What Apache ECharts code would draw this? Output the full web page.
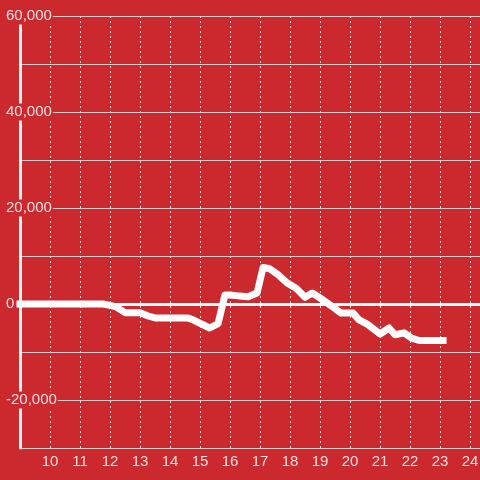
<!DOCTYPE html>
<html><head><meta charset="utf-8">
<script src="https://cdn.jsdelivr.net/npm/echarts@6/dist/echarts.min.js"></script>
<style>html,body{margin:0;padding:0;background:#cc292e}#c{width:480px;height:480px}</style>
</head><body><div id="c"></div>
<script>
const xValues = [9, 11.77, 12.0, 12.2, 12.5, 13.0, 13.27, 13.5, 14.6, 14.8, 15.32, 15.6, 15.83, 16.1, 16.6, 16.9, 17.1, 17.3, 17.6, 17.9, 18.2, 18.5, 18.74, 19.0, 19.2, 19.4, 19.7, 20.1, 20.3, 20.6, 21.0, 21.3, 21.5, 21.8, 22.05, 22.3, 23.1];
const yValues = [0, 0, -300, -600, -1800, -1800, -2500, -2900, -2900, -3400, -5000, -4100, 1900, 1800, 1500, 2300, 7600, 7400, 6100, 4400, 3300, 1400, 2300, 1250, 400, -500, -1900, -1900, -3300, -4300, -6250, -5000, -6400, -6000, -7100, -7600, -7600];
const yLabeled = [60000, 40000, 20000, 0, -20000];
const xLabeled = [10, 11, 12, 13, 14, 15, 16, 17, 18, 19, 20, 21, 22, 23, 24];

const bg = '#cc292e';
const txt = 'rgba(255,255,255,0.85)';
const chart = echarts.init(document.getElementById('c'));
chart.setOption({
  backgroundColor: bg,
  animation: false,
  grid: {left: 20, right: 0, top: 16, bottom: 32, containLabel: false, outerBoundsMode: 'none'},
  xAxis: {
    type: 'value', min: 9, max: 24.33, interval: 1,
    axisLine: {show: true, lineStyle: {color: '#d9d9d9', width: 1}},
    axisTick: {show: false},
    axisLabel: {color: txt, fontSize: 15, fontFamily: 'Liberation Sans', margin: 6,
      formatter: v => xLabeled.includes(v) ? String(v) : ''},
    splitLine: {show: true, lineStyle: {color: '#e6d6d6', width: 1, type: [2, 3]}}
  },
  yAxis: {
    type: 'value', min: -30000, max: 60000, interval: 10000,
    axisLine: {show: true, lineStyle: {color: '#f2f2f2', width: 3}},
    axisTick: {show: false},
    axisLabel: {color: txt, fontSize: 15, fontFamily: 'Liberation Sans', margin: 14, align: 'left',
      backgroundColor: bg, padding: [1, 1, 1, 0],
      formatter: v => yLabeled.includes(v) ? (v === 0 ? '0' : v.toLocaleString('en-US')) : ''},
    splitLine: {show: true, lineStyle: {color: '#d4cccc', width: 1}}
  },
  series: [{
    type: 'line',
    data: xValues.map((x, i) => [x, yValues[i]]),
    symbol: 'none',
    lineStyle: {color: '#ffffff', width: 7, cap: 'square', join: 'round'},
    z: 3,
    markLine: {
      silent: true, symbol: 'none', label: {show: false},
      lineStyle: {color: '#ffffff', width: 3, type: 'solid'},
      data: [{yAxis: 0}],
      z: 2
    }
  }]
});
</script></body></html>
